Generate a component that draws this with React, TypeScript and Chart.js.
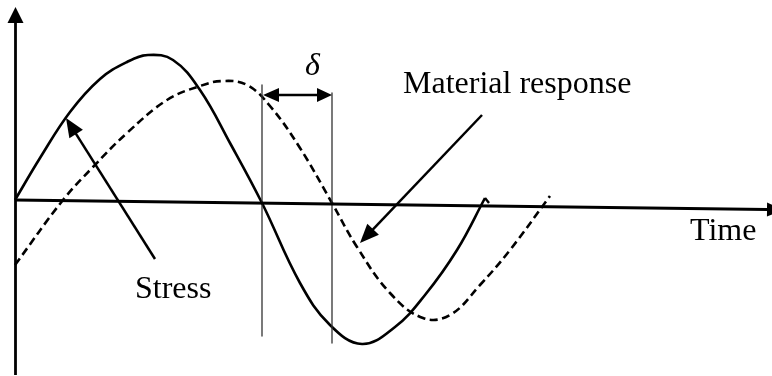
import React, { useEffect, useRef } from "react";
import { Chart, registerables } from "chart.js";

Chart.register(...registerables);

// Schematic: x = time (arbitrary units), y = amplitude (arbitrary units, up = positive)
const stressTime = [15, 40, 70, 100, 127, 148, 173, 200, 230, 262, 300, 330, 362, 395, 425, 457, 485];
const stressValue = [0, 42, 88, 121, 138, 145, 140, 110, 57, -3, -83, -125, -144, -127, -95, -50, 2];
const stressHookTime = [485, 489];
const stressHookValue = [2, -3];

const responseTime = [15, 63, 93, 127, 167, 200, 223, 247, 270, 300, 332, 357, 390, 423, 450, 480, 510, 550];
const responseValue = [-65, 0, 33, 67, 100, 114, 119, 115, 94, 52, -3, -47, -93, -118, -115, -85, -50, 4];

// axes of the schematic
const timeAxisTime = [15, 767];
const timeAxisValue = [0, -9.5];
const timeAxisTip = [783, -9.7];
const valueAxisTime = [15.5, 15.5];
const valueAxisValue = [-175, 178];
const valueAxisTip = [15.5, 193];

// phase-lag markers
const lagTimes = [262, 332];
const lagTop = [115, 107];
const lagBottom = [-136, -143];
const lagArrowValue = 105;

// annotation arrows: [tailTime, tailValue, tipTime, tipValue]
const stressPointer = [155, -59, 66, 82];
const responsePointer = [482, 85, 360, -43];

// labels: [text, time, value, italic]
const labels: [string, number, number, boolean][] = [
  ["Material response", 403, 107, false],
  ["Time", 690, -40, false],
  ["Stress", 135, -98, false],
  ["δ", 305, 125, true],
];

const toPts = (xs: number[], ys: number[]) => xs.map((x, i) => ({ x, y: ys[i] }));

function drawHead(ctx: CanvasRenderingContext2D, x0: number, y0: number, x1: number, y1: number, len: number, half: number) {
  const dx = x1 - x0;
  const dy = y1 - y0;
  const d = Math.hypot(dx, dy) || 1;
  const ux = dx / d;
  const uy = dy / d;
  const bx = x1 - ux * len;
  const by = y1 - uy * len;
  ctx.beginPath();
  ctx.moveTo(x1, y1);
  ctx.lineTo(bx - uy * half, by + ux * half);
  ctx.lineTo(bx + uy * half, by - ux * half);
  ctx.closePath();
  ctx.fill();
}

const annotationPlugin = {
  id: "schematicAnnotations",
  afterDatasetsDraw(chart: any) {
    const ctx: CanvasRenderingContext2D = chart.ctx;
    const xs = chart.scales.x;
    const ys = chart.scales.y;
    const px = (v: number) => xs.getPixelForValue(v);
    const py = (v: number) => ys.getPixelForValue(v);
    ctx.save();
    ctx.fillStyle = "#000";
    ctx.strokeStyle = "#000";
    ctx.lineCap = "butt";

    // axis arrowheads
    drawHead(ctx, px(timeAxisTime[1]) - 10, py(timeAxisValue[1]), px(timeAxisTip[0]), py(timeAxisTip[1]), 16, 7);
    drawHead(ctx, px(valueAxisTime[1]), py(valueAxisValue[1]) + 10, px(valueAxisTip[0]), py(valueAxisTip[1]), 16, 8);

    // pointer arrows
    for (const p of [stressPointer, responsePointer]) {
      const tx = px(p[0]), ty = py(p[1]), hx = px(p[2]), hy = py(p[3]);
      const d = Math.hypot(hx - tx, hy - ty);
      const ex = hx - ((hx - tx) / d) * 14;
      const ey = hy - ((hy - ty) / d) * 14;
      ctx.lineWidth = 2.5;
      ctx.beginPath();
      ctx.moveTo(tx, ty);
      ctx.lineTo(ex, ey);
      ctx.stroke();
      drawHead(ctx, tx, ty, hx, hy, 19, 8);
    }

    // lag double arrow
    const ay = py(lagArrowValue);
    const ax0 = px(lagTimes[0]) + 1;
    const ax1 = px(lagTimes[1]);
    ctx.lineWidth = 2.5;
    ctx.beginPath();
    ctx.moveTo(ax0 + 12, ay);
    ctx.lineTo(ax1 - 12, ay);
    ctx.stroke();
    drawHead(ctx, ax1, ay, ax0, ay, 16, 7);
    drawHead(ctx, ax0, ay, ax1, ay, 15, 7);

    // labels
    ctx.textBaseline = "alphabetic";
    ctx.textAlign = "left";
    for (const [t, x, y, it] of labels) {
      ctx.font = (it ? "italic " : "") + "32px 'Liberation Serif', 'Times New Roman', serif";
      ctx.fillText(t, px(x), py(y));
    }
    ctx.restore();
  },
};

export default function App() {
  const ref = useRef<HTMLCanvasElement | null>(null);
  useEffect(() => {
    if (!ref.current) return;
    const curve = {
      pointRadius: 0,
      borderColor: "#000",
      borderWidth: 2.6,
      tension: 0.4,
      fill: false,
    };
    const straight = (xs: number[], ys: number[], w: number, color = "#000") => ({
      data: toPts(xs, ys),
      pointRadius: 0,
      borderColor: color,
      borderWidth: w,
      tension: 0,
      fill: false,
    });
    const chart = new Chart(ref.current, {
      type: "line",
      data: {
        datasets: [
          straight(timeAxisTime, timeAxisValue, 2.8),
          straight(valueAxisTime, valueAxisValue, 2.8),
          straight([lagTimes[0], lagTimes[0]], [lagTop[0], lagBottom[0]], 1.3, "#333"),
          straight([lagTimes[1], lagTimes[1]], [lagTop[1], lagBottom[1]], 1.3, "#333"),
          { ...curve, label: "Stress", data: toPts(stressTime, stressValue) },
          straight(stressHookTime, stressHookValue, 2.4),
          { ...curve, label: "Material response", data: toPts(responseTime, responseValue), borderDash: [8, 4.5] },
        ] as any,
      },
      options: {
        animation: false,
        responsive: false,
        layout: { padding: 0 },
        plugins: { legend: { display: false }, tooltip: { enabled: false } },
        scales: {
          x: { type: "linear", min: 0, max: 772, display: false },
          y: { type: "linear", min: -176, max: 200, display: false },
        },
        elements: { line: { borderCapStyle: "butt", borderJoinStyle: "round" } },
      } as any,
      plugins: [annotationPlugin],
    });
    return () => chart.destroy();
  }, []);
  return (
    <div style={{ position: "fixed", left: 0, top: 0, width: 772, height: 376, background: "#fff" }}>
      <canvas ref={ref} width={772} height={376} style={{ width: 772, height: 376 }} />
    </div>
  );
}
